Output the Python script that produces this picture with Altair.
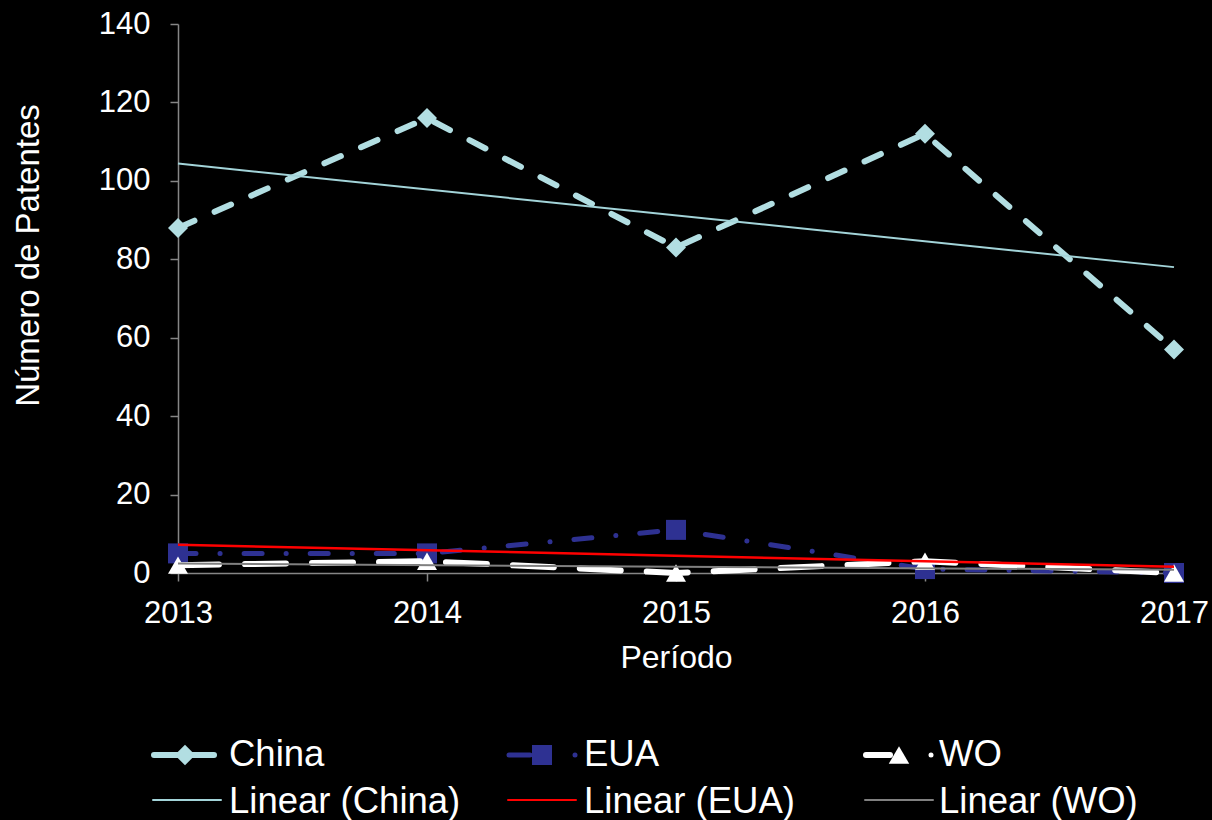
import altair as alt
import pandas as pd

# Patent counts per year and office
years = [2013, 2014, 2015, 2016, 2017]
series_names = ["China", "EUA", "WO"]
china = [88, 116, 83, 112, 57]
eua = [5, 5, 11, 1, 0]
wo = [2, 3, 0, 3, 0]
y_ticks = [0, 20, 40, 60, 80, 100, 120, 140]

values = {"China": china, "EUA": eua, "WO": wo}
df = pd.DataFrame(
    [{"year": y, "series": s, "value": v}
     for s in series_names for y, v in zip(years, values[s])]
)

FONT = "Liberation Sans"
W, H = 996, 549
LEFT, TOP = 178, 24
AXIS_GRAY = "#868686"

style = {
    "China": dict(color="#B2DEE2", dash=[18, 22], width=6, shape="diamond", trend="#A3D4D9", tw=2),
    "EUA": dict(color="#2E3192", dash=[18, 24, 0.1, 24], width=5, shape="square", trend="#FF0000", tw=2.5),
    "WO": dict(color="#FFFFFF", dash=[41, 26], width=6, shape="triangle-up", trend="#808080", tw=2),
}

x_enc = alt.X(
    "year:Q",
    scale=alt.Scale(domain=[2013, 2017], nice=False, zero=False),
    axis=alt.Axis(
        values=years, format="d", tickSize=8, labelPadding=17,
        labelFlush=False, labelOverlap=False,
        title="Período", titleY=94, titleBaseline="alphabetic", titleFontSize=32,
    ),
)
y_enc = alt.Y(
    "value:Q",
    scale=alt.Scale(domain=[0, 140], nice=False),
    axis=alt.Axis(
        values=y_ticks, tickSize=8, labelPadding=20, labelFlush=False,
        title="Número de Patentes", titleX=-140, titleY=231, titleFontSize=33,
        titleBaseline="alphabetic", titleAlign="center",
    ),
)

layers = []

# Observed series: dashed lines with markers
for s in series_names:
    st = style[s]
    sub = alt.Chart(df).transform_filter(alt.datum.series == s)
    layers.append(
        sub.mark_line(color=st["color"], strokeWidth=st["width"],
                      strokeDash=st["dash"], strokeCap="round")
        .encode(x=x_enc, y=y_enc)
    )
    layers.append(
        sub.mark_point(shape=st["shape"], filled=True, size=400,
                       color=st["color"], opacity=1)
        .encode(x=x_enc, y=y_enc)
    )

# Linear trend lines
for s in series_names:
    st = style[s]
    layers.append(
        alt.Chart(df)
        .transform_filter(alt.datum.series == s)
        .transform_regression("year", "value", extent=[2013, 2017])
        .mark_line(color=st["trend"], strokeWidth=st["tw"])
        .encode(x=x_enc, y=y_enc)
    )

# Legend drawn below the plot
dummy = pd.DataFrame({"k": [0]})


def seg(x0, x1, y, color, width):
    return alt.Chart(dummy).mark_rule(color=color, strokeWidth=width, strokeCap="round").encode(
        x=alt.value(x0 - LEFT), x2=alt.value(x1 - LEFT), y=alt.value(y - TOP)
    )


def dot(x, y, color, shape, size):
    return alt.Chart(dummy).mark_point(shape=shape, filled=True, size=size, color=color, opacity=1).encode(
        x=alt.value(x - LEFT), y=alt.value(y - TOP)
    )


def label(x, y, txt):
    return alt.Chart(dummy).mark_text(
        text=txt, font=FONT, fontSize=36.5, color="white", align="left", baseline="alphabetic"
    ).encode(x=alt.value(x - LEFT), y=alt.value(y - TOP))


ROW1, ROW2 = 755, 800
BASE1, BASE2 = 766, 813
cols = {"China": (153, 229), "EUA": (508, 584), "WO": (865, 939)}

c = style["China"]
layers += [
    seg(154, 214, ROW1, c["color"], 6),
    dot(185, ROW1, c["color"], "diamond", 420),
    label(229, BASE1, "China"),
]
e = style["EUA"]
layers += [
    seg(509, 530, ROW1, e["color"], 5),
    dot(542, ROW1, e["color"], "square", 400),
    dot(575, ROW1, e["color"], "circle", 25),
    label(584, BASE1, "EUA"),
]
w = style["WO"]
layers += [
    seg(866, 890, ROW1, w["color"], 6),
    dot(899, ROW1, w["color"], "triangle-up", 420),
    dot(931, ROW1, w["color"], "circle", 25),
    label(939, BASE1, "WO"),
]
for s, (x0, tx) in cols.items():
    layers += [
        seg(x0, x0 + 68, ROW2, style[s]["trend"], 2),
        label(tx, BASE2, f"Linear ({s})"),
    ]

chart = (
    alt.layer(*layers)
    .properties(
        width=W, height=H,
        autosize=alt.AutoSizeParams(type="none"),
        padding={"left": LEFT, "top": TOP, "right": 1212 - LEFT - W, "bottom": 820 - TOP - H},
        background="black",
    )
    .configure_view(stroke=None)
    .configure_axis(
        grid=False,
        domainColor=AXIS_GRAY, domainWidth=1.5,
        tickColor=AXIS_GRAY, tickWidth=1.5,
        labelColor="white", titleColor="white",
        labelFont=FONT, titleFont=FONT,
        labelFontSize=31, titleFontSize=32, titleFontWeight="normal",
    )
)

chart.save("out.html", embed_options={"renderer": "svg", "actions": False})
